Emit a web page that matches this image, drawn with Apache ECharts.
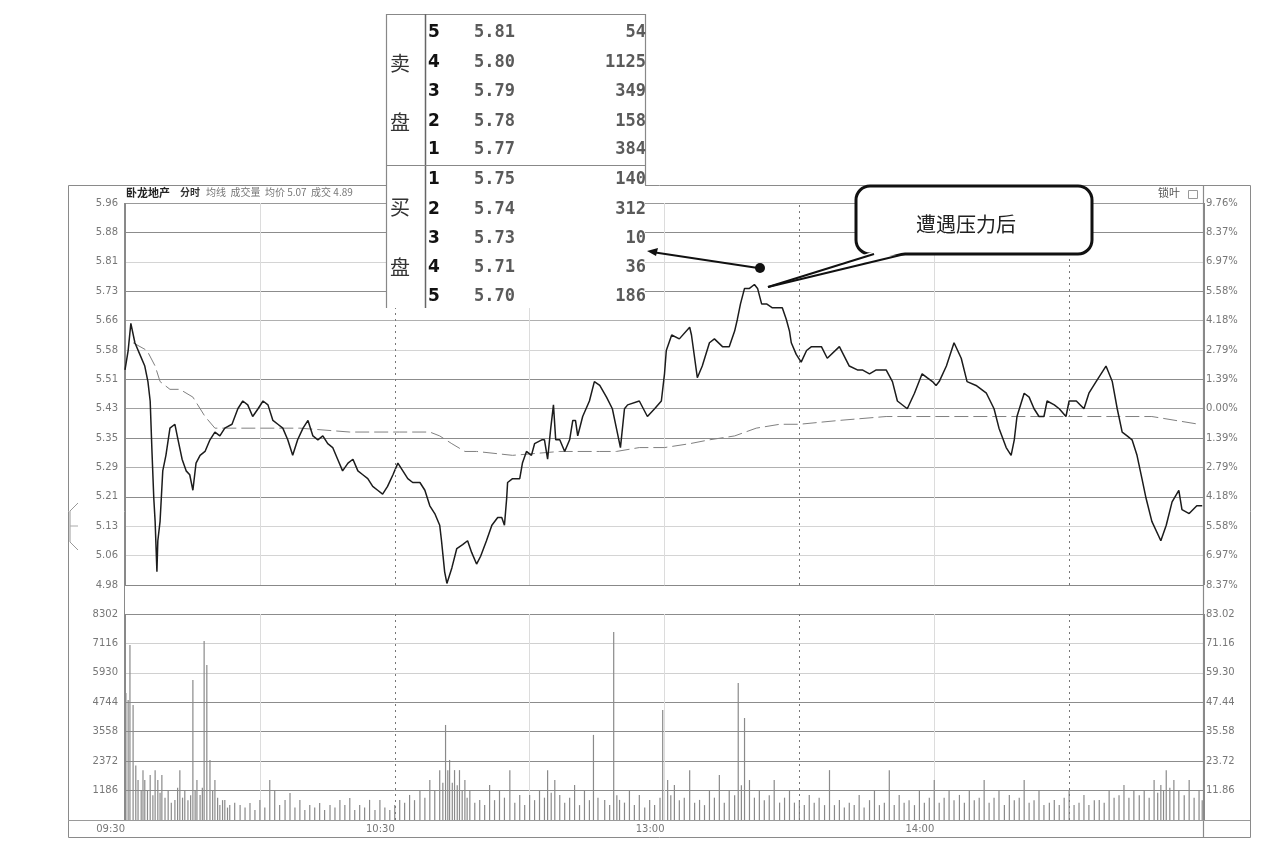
<!DOCTYPE html>
<html><head><meta charset="utf-8">
<script src="https://cdn.jsdelivr.net/npm/echarts@6/dist/echarts.min.js"></script>
<style>html,body{margin:0;padding:0;background:#fff}#c{width:1282px;height:854px}</style>
</head><body><div id="c"></div>
<script>
// ---- tick labels (bottom to top) ----
const priceLabels = ['4.98','5.06','5.13','5.21','5.29','5.35','5.43','5.51','5.58','5.66','5.73','5.81','5.88','5.96'];
const pctLabels = ['8.37%','6.97%','5.58%','4.18%','2.79%','1.39%','0.00%','1.39%','2.79%','4.18%','5.58%','6.97%','8.37%','9.76%'];
const volLabels = ['','1186','2372','3558','4744','5930','7116','8302'];
const volLabelsR = ['','11.86','23.72','35.58','47.44','59.30','71.16','83.02'];
const timeLabels = {0:'09:30',60:'10:30',120:'13:00',180:'14:00'};
const priceMin = 4.976, priceMax = 5.960, volMax = 8302;

// ---- order book ----
const sellLevels = ['5','4','3','2','1'];
const sellPrices = ['5.81','5.80','5.79','5.78','5.77'];
const sellVols = ['54','1125','349','158','384'];
const buyLevels = ['1','2','3','4','5'];
const buyPrices = ['5.75','5.74','5.73','5.71','5.70'];
const buyVols = ['140','312','10','36','186'];

// ---- intraday price [minute from 09:30, price] ----
const priceTrace = [[0,5.53],[0.7,5.58],[1.3,5.65],[2.2,5.60],[3.3,5.57],[4.4,5.54],[5.1,5.50],[5.6,5.45],[6.0,5.32],[6.4,5.20],[6.7,5.14],[7.1,5.01],[7.3,5.09],[7.8,5.14],[8.4,5.27],[9.1,5.31],[10.0,5.38],[11.1,5.39],[11.8,5.35],[12.7,5.30],[13.6,5.27],[14.4,5.26],[15.1,5.22],[15.8,5.29],[16.7,5.31],[17.8,5.32],[18.9,5.35],[20.0,5.37],[21.1,5.36],[22.2,5.38],[23.8,5.39],[25.1,5.43],[26.2,5.45],[27.3,5.44],[28.4,5.41],[29.6,5.43],[30.7,5.45],[31.8,5.44],[32.9,5.40],[34.0,5.39],[35.1,5.38],[36.2,5.35],[37.3,5.31],[38.4,5.35],[39.6,5.38],[40.7,5.40],[41.8,5.36],[42.9,5.35],[44.0,5.36],[45.1,5.34],[46.2,5.33],[47.3,5.30],[48.4,5.27],[49.6,5.29],[50.7,5.30],[51.8,5.27],[52.9,5.26],[54.0,5.25],[55.1,5.23],[56.2,5.22],[57.3,5.21],[58.4,5.23],[59.6,5.26],[60.7,5.29],[61.8,5.27],[62.9,5.25],[64.0,5.24],[65.6,5.24],[66.7,5.22],[67.8,5.18],[68.9,5.16],[70.0,5.13],[70.4,5.09],[71.1,5.01],[71.6,4.98],[72.7,5.02],[73.8,5.07],[75.1,5.08],[76.2,5.09],[77.1,5.06],[78.2,5.03],[79.1,5.05],[80.4,5.09],[81.6,5.13],[82.9,5.15],[83.8,5.15],[84.4,5.13],[84.9,5.20],[85.1,5.24],[86.2,5.25],[87.8,5.25],[88.4,5.29],[89.3,5.32],[90.4,5.31],[91.1,5.34],[92.7,5.35],[93.3,5.35],[94.0,5.30],[94.7,5.38],[95.3,5.44],[95.8,5.35],[96.7,5.35],[97.8,5.32],[98.9,5.35],[99.6,5.40],[100.2,5.40],[100.7,5.36],[101.8,5.41],[103.3,5.45],[104.4,5.50],[105.6,5.49],[107.1,5.46],[108.4,5.43],[109.3,5.38],[110.2,5.33],[111.1,5.43],[111.8,5.44],[114.4,5.45],[116.2,5.41],[117.8,5.43],[119.3,5.45],[120.0,5.52],[120.4,5.58],[121.6,5.62],[123.3,5.61],[125.6,5.64],[126.0,5.62],[127.3,5.51],[128.4,5.54],[130.0,5.60],[131.1,5.61],[132.9,5.59],[134.4,5.59],[135.6,5.63],[136.2,5.66],[136.9,5.70],[137.8,5.74],[138.9,5.74],[140.0,5.75],[140.7,5.74],[141.6,5.70],[142.7,5.70],[144.0,5.69],[146.2,5.69],[147.1,5.66],[147.8,5.63],[148.2,5.60],[149.3,5.57],[150.4,5.55],[151.6,5.58],[152.7,5.59],[154.9,5.59],[156.2,5.56],[158.9,5.59],[161.1,5.54],[162.9,5.53],[164.0,5.53],[165.6,5.52],[167.1,5.53],[169.3,5.53],[170.7,5.50],[171.8,5.45],[174.0,5.43],[175.6,5.47],[177.3,5.52],[178.4,5.51],[179.6,5.50],[180.4,5.49],[181.1,5.50],[182.7,5.54],[184.4,5.60],[186.0,5.56],[187.3,5.50],[189.3,5.49],[191.6,5.47],[193.3,5.43],[194.4,5.38],[196.0,5.33],[197.1,5.31],[197.8,5.35],[198.4,5.41],[200.0,5.47],[201.1,5.46],[202.2,5.43],[203.3,5.41],[204.4,5.41],[205.1,5.45],[206.7,5.44],[207.8,5.43],[209.3,5.41],[210.0,5.45],[211.6,5.45],[213.3,5.43],[214.4,5.47],[216.0,5.50],[218.2,5.54],[219.6,5.50],[220.7,5.43],[221.8,5.37],[222.9,5.36],[224.0,5.35],[225.1,5.31],[226.2,5.25],[227.1,5.20],[228.4,5.14],[230.4,5.09],[231.6,5.13],[232.9,5.19],[234.4,5.22],[235.1,5.17],[236.7,5.16],[238.4,5.18],[239.6,5.18]];

// ---- average price [minute, price] ----
const avgTrace = [[1.8,5.60],[4.9,5.58],[6.7,5.54],[7.8,5.50],[10.0,5.48],[12.2,5.48],[15.1,5.46],[17.8,5.41],[20.0,5.38],[25.6,5.38],[38.9,5.38],[50.0,5.37],[61.1,5.37],[67.8,5.37],[70.0,5.36],[72.7,5.34],[75.6,5.32],[78.2,5.32],[86.2,5.31],[96.7,5.32],[105.6,5.32],[109.3,5.32],[114.4,5.33],[120,5.33],[125.6,5.34],[130.0,5.35],[135.6,5.36],[140.4,5.38],[145.6,5.39],[150.0,5.39],[158.9,5.40],[169.3,5.41],[183.3,5.41],[194.4,5.41],[205.6,5.41],[219.6,5.41],[228.4,5.41],[238.9,5.39]];

// ---- volume [minute, shares] ----
const volTrace = [[0.2,5120],[0.7,4840],[1.1,7050],[1.8,4630],[2.4,2200],[2.9,1610],[3.6,1210],[4.0,2000],[4.4,1610],[5.0,1200],[5.6,1810],[6.2,1000],[6.7,2010],[7.3,1610],[7.8,1100],[8.2,1810],[8.9,900],[9.6,1210],[10.3,700],[11.1,810],[11.7,1300],[12.2,2010],[12.8,900],[13.3,1210],[14.0,800],[14.6,1000],[15.1,5640],[15.6,1200],[16.0,1610],[16.7,1010],[17.2,1300],[17.6,7210],[18.2,6250],[18.9,2420],[19.5,1200],[20.0,1610],[20.6,900],[21.1,600],[21.7,800],[22.2,810],[22.8,500],[23.3,600],[24.4,700],[25.6,600],[26.7,500],[27.8,690],[28.9,400],[30.0,810],[31.1,500],[32.2,1610],[33.3,1210],[34.4,600],[35.6,810],[36.7,1090],[37.8,500],[38.9,810],[40.0,400],[41.1,600],[42.2,500],[43.3,690],[44.4,400],[45.6,600],[46.7,500],[47.8,810],[48.9,600],[50.0,890],[51.1,400],[52.2,600],[53.3,500],[54.4,810],[55.6,400],[56.7,810],[57.8,500],[58.9,400],[60.0,600],[61.1,810],[62.2,700],[63.3,1010],[64.4,800],[65.6,1210],[66.7,900],[67.8,1610],[68.9,1200],[70.0,2010],[70.7,1500],[71.3,3830],[71.8,2000],[72.2,2420],[72.8,1500],[73.3,2010],[73.9,1400],[74.4,2010],[75.0,1200],[75.6,1610],[76.1,900],[76.7,1210],[77.8,700],[78.9,810],[80.0,600],[81.1,1410],[82.2,800],[83.3,1210],[84.4,900],[85.6,2010],[86.7,700],[87.8,1010],[88.9,600],[90.0,1010],[91.1,800],[92.2,1210],[93.3,900],[94.0,2010],[94.8,1100],[95.6,1610],[96.7,1010],[97.8,700],[98.9,900],[100.0,1410],[101.1,600],[102.2,1210],[103.3,800],[104.2,3430],[105.2,900],[106.7,810],[107.8,600],[108.7,7580],[109.4,1000],[110.0,810],[111.1,700],[112.2,1210],[113.3,600],[114.4,1010],[115.6,500],[116.7,810],[117.8,600],[119.0,900],[119.6,4430],[120.7,1610],[121.4,1000],[122.2,1410],[123.3,800],[124.4,900],[125.6,2010],[126.7,700],[127.8,810],[128.9,600],[130.0,1210],[131.1,900],[132.2,1810],[133.3,700],[134.4,1210],[135.6,1000],[136.4,5520],[137.1,1400],[137.8,4110],[138.9,1610],[140.0,900],[141.1,1210],[142.2,800],[143.3,1000],[144.4,1610],[145.6,700],[146.7,900],[147.8,1210],[148.9,700],[150.0,810],[151.1,600],[152.2,1010],[153.3,700],[154.4,900],[155.6,600],[156.7,2010],[157.8,600],[158.9,810],[160.0,500],[161.1,700],[162.2,600],[163.3,1010],[164.4,500],[165.6,800],[166.7,1210],[167.8,600],[168.9,700],[170.0,2010],[171.1,600],[172.2,1010],[173.3,700],[174.4,800],[175.6,600],[176.7,1210],[177.8,700],[178.9,900],[180.0,1610],[181.1,700],[182.2,900],[183.3,1210],[184.4,800],[185.6,1010],[186.7,700],[187.8,1210],[188.9,800],[190.0,900],[191.1,1610],[192.2,700],[193.3,900],[194.4,1210],[195.6,600],[196.7,1010],[197.8,800],[198.9,900],[200.0,1610],[201.1,700],[202.2,800],[203.3,1210],[204.4,600],[205.6,700],[206.7,810],[207.8,600],[208.9,900],[210.0,1210],[211.1,600],[212.2,700],[213.3,1010],[214.4,600],[215.6,800],[216.7,810],[217.8,700],[218.9,1210],[220.0,900],[221.1,1000],[222.2,1410],[223.3,900],[224.4,1210],[225.6,1000],[226.7,1210],[227.8,900],[228.9,1610],[229.7,1100],[230.4,1410],[231.0,1200],[231.6,2010],[232.4,1300],[233.3,1610],[234.4,1210],[235.6,1000],[236.7,1610],[237.8,900],[238.9,1210],[239.6,800]];

const dashedTimes = [60,150,210];

const chart = echarts.init(document.getElementById('c'), null, {renderer:'canvas'});
const hColors = ['#888','#d4d4d4','#d4d4d4','#8c8c8c','#b0b0b0','#8c8c8c','#a0a0a0','#8c8c8c','#d4d4d4','#b0b0b0','#8c8c8c','#d4d4d4','#8c8c8c','#999'];
const vhColors = ['#888','#8c8c8c','#8c8c8c','#8c8c8c','#8c8c8c','#d0d0d0','#d0d0d0','#8c8c8c'];
const vColors = ['#888','#dcdcdc','rgba(0,0,0,0)','#dcdcdc','#dcdcdc','rgba(0,0,0,0)','#dcdcdc','rgba(0,0,0,0)','#888'];
const lblFont = {fontFamily:'DejaVu Sans', fontSize:10, color:'#777'};

const dashMark = {
  silent:true, symbol:['none','none'], label:{show:false},
  lineStyle:{color:'#777', type:[2,4], width:1},
  data: dashedTimes.map(t=>({xAxis:t}))
};

const g = [];
// outer frame
g.push({type:'rect', shape:{x:68.5,y:185.5,width:1182,height:652}, style:{fill:'none',stroke:'#8a8a8a',lineWidth:1}, z:1});
g.push({type:'line', shape:{x1:1203.5,y1:185,x2:1203.5,y2:838}, style:{stroke:'#8a8a8a',lineWidth:1.2}, z:1});
g.push({type:'line', shape:{x1:124.5,y1:203,x2:124.5,y2:820}, style:{stroke:'#8a8a8a',lineWidth:1}, z:1});
g.push({type:'line', shape:{x1:68,y1:820.5,x2:1250,y2:820.5}, style:{stroke:'#9a9a9a',lineWidth:1}, z:1});
// left tab handle
g.push({type:'polyline', shape:{points:[[78,503],[70,511],[70,542],[78,550]]}, style:{fill:'#fff',stroke:'#999',lineWidth:1}, z:3});
g.push({type:'line', shape:{x1:70,y1:526,x2:78,y2:526}, style:{stroke:'#aaa',lineWidth:1}, z:3});
// header texts
g.push({type:'text', x:126, y:187, style:{text:'卧龙地产', font:'bold 11px "Noto Sans CJK SC"', fill:'#222'}, z:3});
g.push({type:'text', x:180, y:187, style:{text:'分时', font:'bold 10px "Noto Sans CJK SC"', fill:'#333'}, z:3});
g.push({type:'text', x:206, y:187, style:{text:'均线  成交量  均价 5.07  成交 4.89', font:'10px "Noto Sans CJK SC"', fill:'#777'}, z:3});
g.push({type:'text', x:1158, y:187, style:{text:'锁叶', font:'11px "Noto Sans CJK SC"', fill:'#555'}, z:3});
g.push({type:'rect', shape:{x:1188.5,y:190.5,width:9,height:8}, style:{fill:'none',stroke:'#999',lineWidth:1}, z:3});

// order book
const TZ = 50;
g.push({type:'rect', shape:{x:386,y:14,width:259,height:294}, style:{fill:'#fff',stroke:null}, z:TZ});
g.push({type:'polyline', shape:{points:[[386.5,308],[386.5,14.5],[645.5,14.5],[645.5,185]]}, style:{fill:'none',stroke:'#888',lineWidth:1.2}, z:TZ+1});
g.push({type:'line', shape:{x1:425.5,y1:14,x2:425.5,y2:308}, style:{stroke:'#666',lineWidth:1.5}, z:TZ+1});
g.push({type:'line', shape:{x1:386,y1:165.5,x2:645,y2:165.5}, style:{stroke:'#888',lineWidth:1.2}, z:TZ+1});
const cjk = '"Noto Sans CJK SC"';
[['卖',63],['盘',122],['买',207],['盘',267]].forEach(([t,y])=>{
  g.push({type:'text', x:400, y:y, style:{text:t, font:'20px '+cjk, fill:'#333', align:'center', verticalAlign:'middle'}, z:TZ+2});
});
const rowYs = [33,63,92,122,150,180,210,239,268,297];
const levels = sellLevels.concat(buyLevels), prices = sellPrices.concat(buyPrices), vols = sellVols.concat(buyVols);
rowYs.forEach((y,i)=>{
  g.push({type:'text', x:428, y:y, style:{text:levels[i], font:'bold 17px "DejaVu Sans"', fill:'#111', verticalAlign:'middle'}, z:TZ+2});
  g.push({type:'text', x:474, y:y, style:{text:prices[i], font:'bold 17px "DejaVu Sans Mono"', fill:'#5a5a5a', verticalAlign:'middle'}, z:TZ+2});
  g.push({type:'text', x:646, y:y, style:{text:vols[i], font:'bold 17px "DejaVu Sans Mono"', fill:'#5a5a5a', align:'right', verticalAlign:'middle'}, z:TZ+2});
});

// callout bubble
const CZ = 60;
g.push({type:'rect', shape:{x:856,y:186,width:236,height:68,r:14}, style:{fill:'#fff',stroke:'#111',lineWidth:3}, z:CZ});
g.push({type:'polygon', shape:{points:[[872,252],[905,252],[768,287]]}, style:{fill:'#fff',stroke:null}, z:CZ+1});
g.push({type:'line', shape:{x1:874,y1:254,x2:768,y2:287}, style:{stroke:'#111',lineWidth:2}, z:CZ+2});
g.push({type:'line', shape:{x1:905,y1:254,x2:768,y2:287}, style:{stroke:'#111',lineWidth:2}, z:CZ+2});
g.push({type:'text', x:966, y:224, style:{text:'遭遇压力后', font:'20px '+cjk, fill:'#222', align:'center', verticalAlign:'middle'}, z:CZ+2});
// arrow to order book
g.push({type:'line', shape:{x1:758,y1:268,x2:652,y2:252}, style:{stroke:'#111',lineWidth:2}, z:CZ});
g.push({type:'polygon', shape:{points:[[647,251],[658,248],[656,256]]}, style:{fill:'#111'}, z:CZ});
g.push({type:'circle', shape:{cx:760,cy:268,r:5}, style:{fill:'#111'}, z:CZ});

const option = {
  backgroundColor:'#fff',
  animation:false,
  grid:[
    {left:125, right:78, top:203, height:382},
    {left:125, right:78, top:614, height:206}
  ],
  xAxis:[
    {gridIndex:0, type:'value', min:0, max:240, interval:30, axisLine:{show:false}, axisTick:{show:false}, axisLabel:{show:false},
     splitLine:{show:true, lineStyle:{color:vColors, width:1}}},
    {gridIndex:1, type:'value', min:0, max:240, interval:30, axisLine:{show:false}, axisTick:{show:false},
     axisLabel:Object.assign({show:true, margin:4, align:'right', formatter:v=>timeLabels[v]||''}, lblFont),
     splitLine:{show:true, lineStyle:{color:vColors, width:1}}}
  ],
  yAxis:[
    {gridIndex:0, type:'value', min:0, max:13, interval:1, position:'left', axisLine:{show:false}, axisTick:{show:false},
     axisLabel:Object.assign({margin:7, formatter:v=>priceLabels[v]||''}, lblFont), splitLine:{show:true, lineStyle:{color:hColors, width:1}}},
    {gridIndex:0, type:'value', min:0, max:13, interval:1, position:'right', axisLine:{show:false}, axisTick:{show:false},
     axisLabel:Object.assign({margin:2, formatter:v=>pctLabels[v]||''}, lblFont), splitLine:{show:false}},
    {gridIndex:0, type:'value', min:priceMin, max:priceMax, show:false, splitLine:{show:false}},
    {gridIndex:1, type:'value', min:0, max:7, interval:1, position:'left', axisLine:{show:false}, axisTick:{show:false},
     axisLabel:Object.assign({margin:7, formatter:v=>volLabels[v]||''}, lblFont), splitLine:{show:true, lineStyle:{color:vhColors, width:1}}},
    {gridIndex:1, type:'value', min:0, max:7, interval:1, position:'right', axisLine:{show:false}, axisTick:{show:false},
     axisLabel:Object.assign({margin:2, formatter:v=>volLabelsR[v]||''}, lblFont), splitLine:{show:false}},
    {gridIndex:1, type:'value', min:0, max:volMax, show:false, splitLine:{show:false}}
  ],
  series:[
    {type:'line', xAxisIndex:0, yAxisIndex:2, data:avgTrace, symbol:'none', smooth:false,
     lineStyle:{color:'#808080', width:1, type:[14,5]}, z:3, markLine:dashMark},
    {type:'line', xAxisIndex:0, yAxisIndex:2, data:priceTrace, symbol:'none', smooth:false,
     lineStyle:{color:'#1c1c1c', width:1.5}, z:4},
    {type:'bar', xAxisIndex:1, yAxisIndex:5, data:volTrace, barWidth:1.2, itemStyle:{color:'#8a8a8a'}, z:3, markLine:dashMark}
  ],
  graphic: g
};
chart.setOption(option);
</script>
</body></html>
